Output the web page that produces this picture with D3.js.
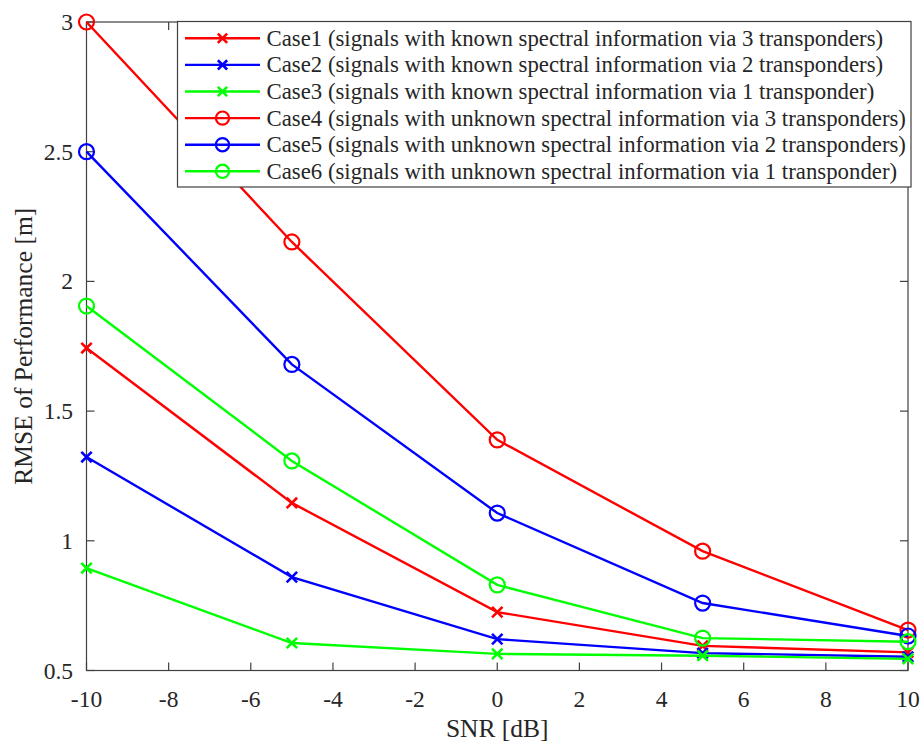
<!DOCTYPE html>
<html>
<head>
<meta charset="utf-8">
<script src="https://cdn.jsdelivr.net/npm/d3@7"></script>
<style>
  html, body { margin: 0; padding: 0; background: #fff; }
</style>
</head>
<body>
<svg id="chart" width="924" height="745"></svg>
<script>
// SNR sweep (dB)
const snr = [-10, -5, 0, 5, 10];

// RMSE per case
const case1 = [1.743, 1.146, 0.725, 0.595, 0.570];
const case2 = [1.323, 0.860, 0.621, 0.567, 0.553];
const case3 = [0.895, 0.606, 0.564, 0.557, 0.545];
const case4 = [3.000, 2.152, 1.389, 0.960, 0.656];
const case5 = [2.500, 1.680, 1.107, 0.760, 0.633];
const case6 = [1.905, 1.308, 0.830, 0.625, 0.611];

const xTicks = [-10, -8, -6, -4, -2, 0, 2, 4, 6, 8, 10];
const yTicks = [0.5, 1, 1.5, 2, 2.5, 3];

const legendLabels = [
  "Case1 (signals with known spectral information via 3 transponders)",
  "Case2 (signals with known spectral information via 2 transponders)",
  "Case3 (signals with known spectral information via 1 transponder)",
  "Case4 (signals with unknown spectral information via 3 transponders)",
  "Case5 (signals with unknown spectral information via 2 transponders)",
  "Case6 (signals with unknown spectral information via 1 transponder)"
];

const series = [
  { values: case1, color: "#ff0000", marker: "x" },
  { values: case2, color: "#0000ff", marker: "x" },
  { values: case3, color: "#00ff00", marker: "x" },
  { values: case4, color: "#ff0000", marker: "o" },
  { values: case5, color: "#0000ff", marker: "o" },
  { values: case6, color: "#00ff00", marker: "o" }
];

const FONT = "'Liberation Serif', 'Times New Roman', serif";
const svg = d3.select("#chart").attr("font-family", FONT);
const plotL = 86.5, plotR = 908, plotT = 22, plotB = 670.5;

const x = d3.scaleLinear().domain([-10, 10]).range([plotL, plotR]);
const y = d3.scaleLinear().domain([0.5, 3]).range([plotB, plotT]);

const axisColor = "#404040";
const textColor = "#262626";
const tickLen = 8;

// Frame with inward ticks on all four sides
const gAxes = svg.append("g");
gAxes.append("rect")
  .attr("x", plotL).attr("y", plotT)
  .attr("width", plotR - plotL).attr("height", plotB - plotT)
  .attr("fill", "none").attr("stroke", axisColor).attr("stroke-width", 1.2);

xTicks.forEach(t => {
  gAxes.append("line").attr("x1", x(t)).attr("x2", x(t))
    .attr("y1", plotB).attr("y2", plotB - tickLen)
    .attr("stroke", axisColor).attr("stroke-width", 1.2);
  gAxes.append("line").attr("x1", x(t)).attr("x2", x(t))
    .attr("y1", plotT).attr("y2", plotT + tickLen)
    .attr("stroke", axisColor).attr("stroke-width", 1.2);
  gAxes.append("text").attr("x", x(t)).attr("y", 706.5)
    .attr("text-anchor", "middle").attr("font-size", 23.5)
    .attr("fill", textColor).text(t);
});

yTicks.forEach(t => {
  gAxes.append("line").attr("x1", plotL).attr("x2", plotL + tickLen)
    .attr("y1", y(t)).attr("y2", y(t))
    .attr("stroke", axisColor).attr("stroke-width", 1.2);
  gAxes.append("line").attr("x1", plotR).attr("x2", plotR - tickLen)
    .attr("y1", y(t)).attr("y2", y(t))
    .attr("stroke", axisColor).attr("stroke-width", 1.2);
  gAxes.append("text").attr("x", 73).attr("y", y(t) + 8)
    .attr("text-anchor", "end").attr("font-size", 23.5)
    .attr("fill", textColor).text(t);
});

// Axis titles
svg.append("text").attr("x", (plotL + plotR) / 2).attr("y", 737)
  .attr("text-anchor", "middle").attr("font-size", 25.5)
  .attr("fill", textColor).text("SNR [dB]");
svg.append("text")
  .attr("transform", `translate(32,${(plotT + plotB) / 2}) rotate(-90)`)
  .attr("text-anchor", "middle").attr("font-size", 25.5)
  .attr("fill", textColor)
  .text("RMSE of Performance [m]");

function drawMarker(g, type, cx, cy, color, size) {
  if (type === "o") {
    g.append("circle").attr("cx", cx).attr("cy", cy).attr("r", size)
      .attr("fill", "none").attr("stroke", color).attr("stroke-width", 2.2);
  } else {
    const s = size * 0.8;
    g.append("path")
      .attr("d", `M${cx - s},${cy - s}L${cx + s},${cy + s}M${cx - s},${cy + s}L${cx + s},${cy - s}`)
      .attr("stroke", color).attr("stroke-width", 2.6).attr("fill", "none");
  }
}

// Data lines and markers
const line = d3.line().x(d => x(d[0])).y(d => y(d[1]));
const gData = svg.append("g");
series.forEach(s => {
  const pts = snr.map((v, i) => [v, s.values[i]]);
  gData.append("path").datum(pts).attr("d", line)
    .attr("fill", "none").attr("stroke", s.color).attr("stroke-width", 2.4);
  pts.forEach(p => drawMarker(gData, s.marker, x(p[0]), y(p[1]), s.color, s.marker === "o" ? 7.5 : 6.5));
});

// Legend
const lg = svg.append("g");
const lgX = 177.5, lgY = 21.5, lgW = 733.5, lgH = 165.5;
lg.append("rect").attr("x", lgX).attr("y", lgY).attr("width", lgW).attr("height", lgH)
  .attr("fill", "#fff").attr("stroke", axisColor).attr("stroke-width", 1.2);
legendLabels.forEach((lab, i) => {
  const ry = 38.3 + i * 26.6;
  const s = series[i];
  lg.append("line").attr("x1", 185).attr("x2", 260).attr("y1", ry).attr("y2", ry)
    .attr("stroke", s.color).attr("stroke-width", 2.4);
  drawMarker(lg, s.marker, 222.5, ry, s.color, s.marker === "o" ? 6.6 : 5.8);
  lg.append("text").attr("x", 266.5).attr("y", ry + 7.5)
    .attr("font-size", 22.8).attr("fill", textColor).text(lab);
});
</script>
</body>
</html>
